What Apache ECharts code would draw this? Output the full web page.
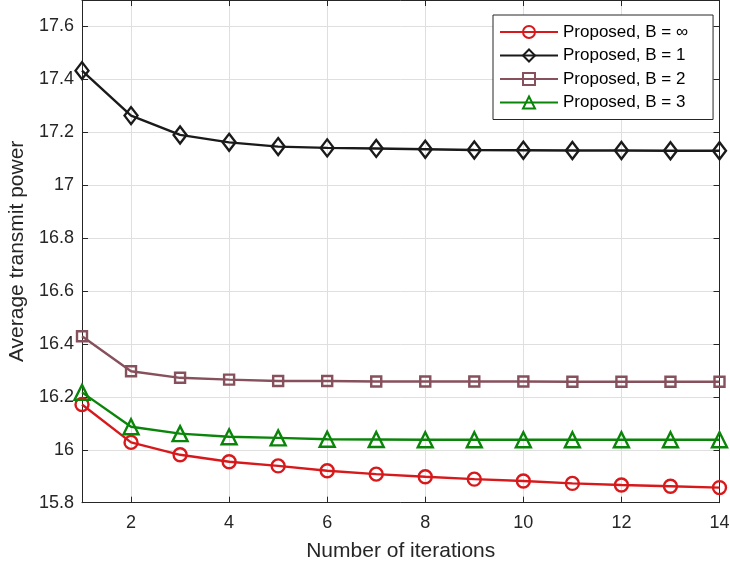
<!DOCTYPE html>
<html><head><meta charset="utf-8">
<script src="https://cdn.jsdelivr.net/npm/echarts@6/dist/echarts.min.js"></script>
<style>html,body{margin:0;padding:0;background:#fff}#c{width:730px;height:569px}</style>
</head><body><div id="c"></div>
<script>
const iterations = [1,2,3,4,5,6,7,8,9,10,11,12,13,14];
const xTicks = [2,4,6,8,10,12,14];
const bInf = [16.171,16.028,15.981,15.955,15.939,15.921,15.908,15.898,15.889,15.882,15.873,15.867,15.862,15.857];
const b1 = [17.433,17.263,17.190,17.162,17.146,17.141,17.139,17.136,17.133,17.132,17.131,17.131,17.130,17.130];
const b2 = [16.429,16.297,16.272,16.265,16.260,16.260,16.258,16.258,16.258,16.258,16.257,16.257,16.257,16.257];
const b3 = [16.217,16.087,16.061,16.049,16.045,16.040,16.039,16.038,16.038,16.038,16.038,16.038,16.038,16.038];
const names = ['Proposed, B = ∞','Proposed, B = 1','Proposed, B = 2','Proposed, B = 3'];

const font = 'Liberation Sans, Arial, Helvetica, sans-serif';
const axCol = '#262626';
function mk(name, data, color, symbol, size){
  return {name, type:'line', data: iterations.map((x,i)=>[x,data[i]]),
    symbol, symbolSize:size, showSymbol:true,
    lineStyle:{color, width:2.4},
    itemStyle:{color:'none', borderColor:color, borderWidth:2.4},
    emphasis:{disabled:true}, z: 3};
}
const chart = echarts.init(document.getElementById('c'), null, {renderer:'canvas'});
chart.setOption({
  animation:false,
  backgroundColor:'#fff',
  grid:{left:82, right:10.5, top:0, bottom:66.3, containLabel:false, outerBoundsMode:'none'},
  legend:{
    left:493, top:15, orient:'vertical', itemWidth:58, itemHeight:15, itemGap:5.5,
    backgroundColor:'#fff', borderColor:'#262626', borderWidth:1, padding:[8,25,8,6],
    textStyle:{fontFamily:font, fontSize:17, color:'#000', lineHeight:18},
    data: names
  },
  xAxis:[{
    type:'value', min:1, max:14, position:'bottom',
    name:'Number of iterations', nameLocation:'middle', nameGap:38,
    nameTextStyle:{fontFamily:font, fontSize:21, color:axCol},
    axisLine:{show:true, lineStyle:{color:axCol, width:1}},
    axisTick:{show:true, inside:true, length:6, customValues:xTicks, lineStyle:{color:axCol}},
    axisLabel:{customValues:xTicks, fontFamily:font, fontSize:18, color:axCol, margin:11},
    splitLine:{show:true, lineStyle:{color:'#dfdfdf', width:1}}
  },{
    type:'value', min:1, max:14, position:'top',
    axisLine:{show:true, lineStyle:{color:axCol, width:1}},
    axisTick:{show:true, inside:true, length:6, customValues:xTicks, lineStyle:{color:axCol}},
    axisLabel:{show:false}, splitLine:{show:false}
  }],
  yAxis:[{
    type:'value', min:15.8, max:17.7, interval:0.2, position:'left',
    name:'Average transmit power', nameLocation:'middle', nameGap:49,
    nameTextStyle:{fontFamily:font, fontSize:21, color:axCol},
    axisLine:{show:true, lineStyle:{color:axCol, width:1}},
    axisTick:{show:true, inside:true, length:6, lineStyle:{color:axCol}},
    axisLabel:{fontFamily:font, fontSize:18, color:axCol, margin:8, showMaxLabel:false,
      formatter:v=>(v>17.65?'':String(parseFloat(v.toFixed(1))))},
    splitLine:{show:true, lineStyle:{color:'#dfdfdf', width:1}}
  },{
    type:'value', min:15.8, max:17.7, interval:0.2, position:'right',
    axisLine:{show:true, lineStyle:{color:axCol, width:1}},
    axisTick:{show:true, inside:true, length:6, lineStyle:{color:axCol}},
    axisLabel:{show:false}, splitLine:{show:false}
  }],
  series:[
    mk(names[0], bInf, '#d7191c', 'circle', 13),
    mk(names[1], b1, '#1a1a1a', 'diamond', [13,17]),
    mk(names[2], b2, '#86505c', 'rect', 10),
    mk(names[3], b3, '#0a850a', 'triangle', 15)
  ]
});
</script></body></html>
